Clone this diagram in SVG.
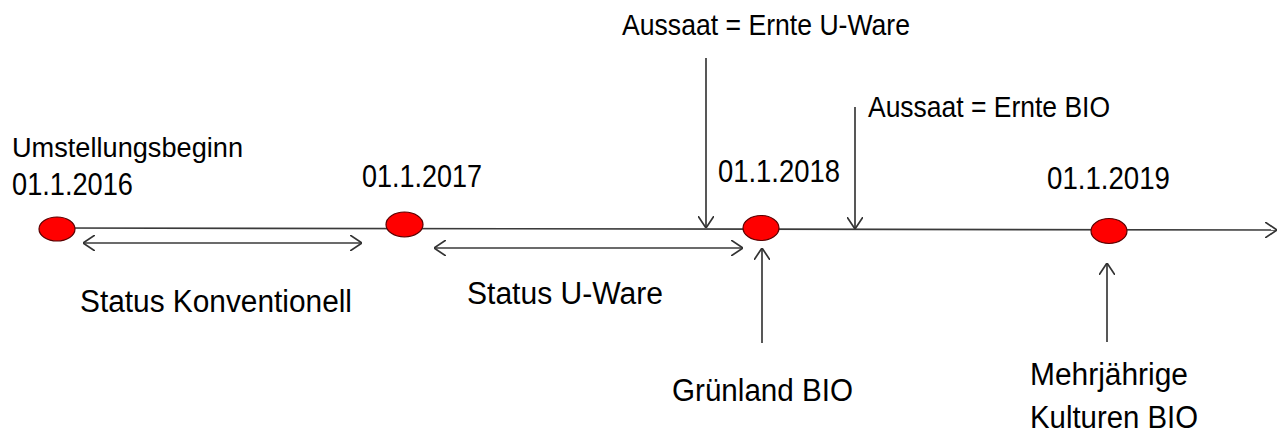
<svg xmlns="http://www.w3.org/2000/svg" width="1281" height="434" viewBox="0 0 1281 434">
<style>
.t{font-family:"Liberation Sans",Arial,sans-serif;fill:#000}
.s28{font-size:29px}.s30{font-size:31px}.s26{font-size:27px}
.ln{stroke:#3a3a3a;stroke-width:1.7;fill:none}
.dot{fill:#ff0000;stroke:#5a0000;stroke-width:1.2}
</style>
<defs>
<marker id="ah" viewBox="0 0 12 16" refX="12" refY="8" markerWidth="12" markerHeight="16" markerUnits="userSpaceOnUse" orient="auto-start-reverse">
<path d="M0,0 L12,8 L0,16" fill="none" stroke="#333" stroke-width="1.7"/>
</marker>
</defs>
<rect width="1281" height="434" fill="#fff"/>
<g id="connectors">
<line class="ln" x1="57" y1="228" x2="1277" y2="230" marker-end="url(#ah)"/>
<line class="ln" x1="83" y1="243" x2="362" y2="243" marker-start="url(#ah)" marker-end="url(#ah)"/>
<line class="ln" x1="434" y1="248" x2="743" y2="248" marker-start="url(#ah)" marker-end="url(#ah)"/>
<line class="ln" x1="706" y1="58" x2="706" y2="228" marker-end="url(#ah)"/>
<line class="ln" x1="855" y1="107" x2="855" y2="229" marker-end="url(#ah)"/>
<line class="ln" x1="762" y1="343" x2="762" y2="248" marker-end="url(#ah)"/>
<line class="ln" x1="1107" y1="342" x2="1107" y2="263" marker-end="url(#ah)"/>
</g>
<g id="n2016">
<ellipse class="dot" cx="57" cy="229" rx="18" ry="12"/>
<text class="t s26" x="12" y="157" textLength="231" lengthAdjust="spacingAndGlyphs">Umstellungsbeginn</text>
<text class="t s30" x="12" y="195" textLength="121" lengthAdjust="spacingAndGlyphs">01.1.2016</text>
</g>
<g id="n2017">
<ellipse class="dot" cx="404.5" cy="224.5" rx="18.5" ry="12.5"/>
<text class="t s30" x="362" y="187" textLength="120" lengthAdjust="spacingAndGlyphs">01.1.2017</text>
</g>
<g id="n2018">
<ellipse class="dot" cx="761" cy="228" rx="18" ry="12.5"/>
<text class="t s30" x="718" y="182" textLength="122" lengthAdjust="spacingAndGlyphs">01.1.2018</text>
</g>
<g id="n2019">
<ellipse class="dot" cx="1109" cy="231" rx="18" ry="12.5"/>
<text class="t s30" x="1047" y="189" textLength="123" lengthAdjust="spacingAndGlyphs">01.1.2019</text>
</g>
<g id="konv">
<text class="t s30" x="80" y="312" textLength="272" lengthAdjust="spacingAndGlyphs">Status Konventionell</text>
</g>
<g id="uware">
<text class="t s30" x="467" y="304" textLength="196" lengthAdjust="spacingAndGlyphs">Status U-Ware</text>
</g>
<g id="aussaat-u">
<text class="t s28" x="622" y="35" textLength="288" lengthAdjust="spacingAndGlyphs">Aussaat = Ernte U-Ware</text>
</g>
<g id="aussaat-bio">
<text class="t s28" x="868" y="117" textLength="242" lengthAdjust="spacingAndGlyphs">Aussaat = Ernte BIO</text>
</g>
<g id="gruenland">
<text class="t s30" x="672" y="401" textLength="181" lengthAdjust="spacingAndGlyphs">Grünland BIO</text>
</g>
<g id="mehrjaehrig">
<text class="t s30" x="1030" y="385" textLength="158" lengthAdjust="spacingAndGlyphs">Mehrjährige</text>
<text class="t s30" x="1030" y="428" textLength="168" lengthAdjust="spacingAndGlyphs">Kulturen BIO</text>
</g>
</svg>
